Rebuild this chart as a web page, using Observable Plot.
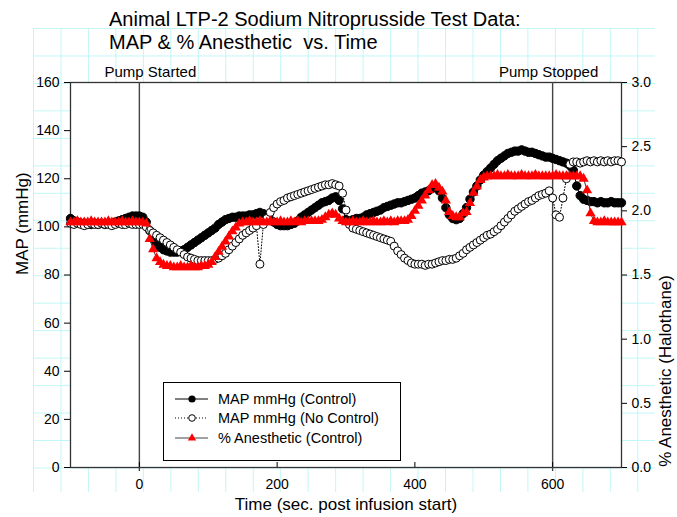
<!DOCTYPE html>
<html><head><meta charset="utf-8">
<script src="https://cdn.jsdelivr.net/npm/d3@7"></script>
<script src="https://cdn.jsdelivr.net/npm/@observablehq/plot@0.6"></script>
<style>
html,body{margin:0;padding:0;background:#fff;}
#wrap{position:relative;width:677px;height:517px;overflow:hidden;font-family:'Liberation Sans',Arial,sans-serif;color:#000;}
#paper{position:absolute;left:33px;top:28px;width:622px;height:464px;
 background-image:linear-gradient(to right,#c2f6f6 1px,transparent 1px),linear-gradient(to bottom,#c2f6f6 1px,transparent 1px);
 background-size:27.48px 27.48px;}
#title{position:absolute;left:109px;top:8px;font-size:20px;line-height:23px;white-space:pre;}
#chart{position:absolute;left:0;top:0;}
#legend{position:absolute;left:163px;top:382px;width:236px;height:77px;border:1px solid #000;background:#fff;}
</style>
</head><body>
<div id="wrap">
  <div id="paper"></div>
  <div id="title">Animal LTP-2 Sodium Nitroprusside Test Data:
MAP &amp; % Anesthetic  vs. Time</div>
  <div id="chart"></div>
  <div id="legend"></div>
</div>
<script>
// Sample times (sec. post infusion start)
const times = [
-100,-95,-90,-85,-80,-75,-70,-65,-60,-55,
-50,-45,-40,-35,-30,-25,-20,-15,-10,-5,
0,5,10,15,20,25,30,35,40,45,
50,55,60,65,70,75,80,85,90,95,
100,105,110,115,120,125,130,135,140,145,
150,155,160,165,170,175,180,185,190,195,
200,205,210,215,220,225,230,235,240,245,
250,255,260,265,270,275,280,285,290,295,
300,305,310,315,320,325,330,335,340,345,
350,355,360,365,370,375,380,385,390,395,
400,405,410,415,420,425,430,435,440,445,
450,455,460,465,470,475,480,485,490,495,
500,505,510,515,520,525,530,535,540,545,
550,555,560,565,570,575,580,585,590,595,
600,605,610,615,620,625,630,635,640,645,
650,655,660,665,670,675,680,685,690,695,
700];

// MAP mmHg (Control)
const mapControl = [
103.5,102.5,102,101.5,101.5,101,101,101.5,101,101.5,
101,101.5,101.5,102,102.5,103,103.5,104,104.5,104.5,
104.5,104,102,98.5,95,93,91.5,90.5,90,89.5,
89.5,89.5,90,90.5,91.5,92.5,93.5,94.5,95.5,96.5,
97.5,98.5,99.5,101,102,103,103.5,104,104,104.5,
104.5,104.5,105,105,105.5,106,105.5,104.5,103,102,
101,100.5,100.5,100.5,101,101.5,102.5,104,105,106,
107,108,109,110,110.5,111,112,112.5,111,107.5,
103,102.5,103,103.5,103.5,104,105,105.5,106,106.5,
107,108,108.5,109,109.5,110,110,110.5,111,111.5,
112,113,114,114.5,115,116,116.5,115,112,108,
105,103.5,103,103.5,105.5,108,111.5,114.5,117,119.5,
121.5,123,124.5,126,127.5,128.5,129.5,130.5,131,131.5,
131.5,132,131.5,131,131,130.5,130,129.5,129,129,
128.5,128,127.5,127,126.5,125.5,123.5,117,113,111.5,
111,110.5,110.5,110,110.5,110,110,110.5,110,110,
110];

// MAP mmHg (No Control)
const mapNoControl = [
101.5,101,101.5,101,100.5,101,101.5,101,101,101.5,
101,101,100.5,101,101.5,101,101,101.5,101,101,
101,101,100,98.5,97.5,96.5,95.5,94.5,93.5,92.5,
91.5,90.5,89.5,88.5,87.5,87,86.5,86,86,86,
86,86,86.5,87,88,89,90.5,92,93.5,95,
96.5,97.5,98.5,99.5,100.5,84.5,101,103.5,106,108,
109.5,110.5,111,112,112.5,113,113.5,114,114.5,115,
115.5,116,116.5,117,117.5,117.5,118,117.5,117,114,
107,101,99.5,99,98.5,98,97.5,97,96.5,96,
95.5,95,94.5,94,92,90,88.5,87,86,85,
84.5,84.5,84.5,84,84.5,84.5,85,85.5,86,86,
86.5,86.5,87,88,89,90.5,91.5,92.5,93.5,94.5,
95.5,96.5,97,98,99,100.5,102,103.5,105,106.5,
107.5,108.5,109.5,110.5,111,112,113,113.5,114,115,
112,105,104,112,120,126,127,127,126.5,127,
127.5,127,127.5,127,127.5,127,127.5,127,127.5,127.5,
127];

// % Anesthetic (Control), halothane %
const anesthetic = [
1.91,1.91,1.92,1.91,1.91,1.91,1.92,1.91,1.91,1.91,
1.91,1.92,1.91,1.91,1.91,1.92,1.91,1.91,1.92,1.91,
1.91,1.91,1.9,1.78,1.7,1.63,1.6,1.58,1.57,1.57,
1.56,1.56,1.57,1.56,1.56,1.57,1.56,1.56,1.57,1.57,
1.58,1.6,1.64,1.68,1.72,1.76,1.8,1.84,1.87,1.9,
1.91,1.91,1.92,1.91,1.91,1.92,1.91,1.91,1.92,1.91,
1.91,1.92,1.91,1.91,1.92,1.91,1.92,1.91,1.92,1.92,
1.92,1.92,1.92,1.93,1.95,1.97,1.98,1.97,1.94,1.92,
1.91,1.91,1.92,1.91,1.91,1.92,1.91,1.91,1.92,1.91,
1.91,1.92,1.91,1.92,1.91,1.92,1.92,1.92,1.93,1.96,
2.0,2.04,2.08,2.12,2.16,2.2,2.21,2.18,2.15,2.08,
1.99,1.96,1.95,1.95,1.98,1.99,2.06,2.14,2.19,2.24,
2.26,2.27,2.27,2.27,2.28,2.27,2.27,2.28,2.27,2.27,
2.27,2.28,2.27,2.27,2.27,2.28,2.27,2.27,2.27,2.27,
2.27,2.28,2.27,2.27,2.27,2.27,2.27,2.27,2.27,2.25,
2.16,1.98,1.92,1.91,1.91,1.92,1.91,1.91,1.91,1.91,
1.91];

// Axis ticks and annotations
const timeTicks = [0, 200, 400, 600];
const mapTicks = [0, 20, 40, 60, 80, 100, 120, 140, 160];
const anesTicks = [0, 0.5, 1.0, 1.5, 2.0, 2.5, 3.0];
const pumpTimes = [0, 600];
const pumpLabels = ["Pump Started", "Pump Stopped"];
const seriesNames = ["MAP mmHg (Control)", "MAP mmHg (No Control)", "% Anesthetic (Control)"];

const MAPMAX = 160, ANESMAX = 3;
const k = MAPMAX / ANESMAX;

const ctrl = times.map((t, i) => ({t, v: mapControl[i]}));
const noctrl = times.map((t, i) => ({t, v: mapNoControl[i]}));
const anes = times.map((t, i) => ({t, v: anesthetic[i] * k}));
const pumps = pumpTimes.map((t, i) => ({t, label: pumpLabels[i]}));

const chart = Plot.plot({
  width: 677, height: 517,
  marginLeft: 70, marginRight: 56, marginTop: 82, marginBottom: 50,
  x: {domain: [-100, 700]},
  y: {domain: [0, MAPMAX]},
  style: {fontFamily: "'Liberation Sans', Arial, sans-serif", fontSize: "14px", color: "#000", background: "transparent", overflow: "visible"},
  marks: [
    Plot.frame({fill: "white", stroke: "#333", strokeWidth: 1.3}),
    Plot.ruleX(pumps, {x: "t", stroke: "#444", strokeWidth: 1.4, insetBottom: -4}),
    Plot.axisY({anchor: "left", ticks: mapTicks, tickSize: 6, tickPadding: 5, label: null, fontSize: 14}),
    Plot.axisY({anchor: "right", ticks: anesTicks.map(d => d * k), tickFormat: d => (d / k).toFixed(1), tickSize: 5, tickPadding: 5, label: null, fontSize: 14}),
    Plot.axisX({ticks: timeTicks, tickSize: -5, tickPadding: 17, label: null, fontSize: 14}),
    Plot.line(ctrl, {x: "t", y: "v", stroke: "#000", strokeWidth: 1}),
    Plot.dot(ctrl, {x: "t", y: "v", r: 4.2, fill: "#000", stroke: "#000", strokeWidth: 1}),
    Plot.line(noctrl, {x: "t", y: "v", stroke: "#000", strokeWidth: 1, strokeDasharray: "1,2"}),
    Plot.dot(noctrl, {x: "t", y: "v", r: 4, fill: "#fff", stroke: "#000", strokeWidth: 1}),
    Plot.line(anes, {x: "t", y: "v", stroke: "#333", strokeWidth: 1}),
    Plot.dot(anes, {x: "t", y: "v", r: 3.8, symbol: "triangle", fill: "#ff0000", stroke: "none"}),
    Plot.text(pumps.slice(0, 1), {x: "t", text: "label", frameAnchor: "top", dy: -16, dx: 11, fontSize: 15}),
    Plot.text(pumps.slice(1), {x: "t", text: "label", frameAnchor: "top", dy: -16, dx: -4, fontSize: 15}),
    Plot.text(["MAP (mmHg)"], {frameAnchor: "left", text: d => d, rotate: -90, dx: -48, fontSize: 17}),
    Plot.text(["% Anesthetic (Halothane)"], {frameAnchor: "right", text: d => d, rotate: -90, dx: 44, fontSize: 17}),
    Plot.text(["Time (sec. post infusion start)"], {frameAnchor: "bottom", text: d => d, dy: 42, fontSize: 17})
  ]
});
chart.style.background = "transparent";
document.getElementById("chart").appendChild(chart);

// Legend
const lg = d3.select("#legend").append("svg").attr("width", 236).attr("height", 77);
const rowsY = [16, 35, 55];
seriesNames.forEach((name, i) => {
  const g = lg.append("g").attr("transform", `translate(0,${rowsY[i]})`);
  g.append("line").attr("x1", 11).attr("x2", 44).attr("y1", 0).attr("y2", 0)
    .attr("stroke", i === 2 ? "#444" : "#000").attr("stroke-width", 1)
    .attr("stroke-dasharray", i === 1 ? "1,2" : null);
  if (i === 0) g.append("circle").attr("cx", 28).attr("r", 3.6).attr("fill", "#000");
  if (i === 1) g.append("circle").attr("cx", 28).attr("r", 3.3).attr("fill", "#fff").attr("stroke", "#000");
  if (i === 2) g.append("path").attr("d", d3.symbol(d3.symbolTriangle, 30)()).attr("transform", "translate(28,0)").attr("fill", "#ff0000");
  g.append("text").attr("x", 54).attr("y", 0).attr("dy", "0.35em")
    .attr("font-size", 14.5).attr("font-family", "'Liberation Sans', Arial, sans-serif").text(name);
});
</script>
</body></html>
